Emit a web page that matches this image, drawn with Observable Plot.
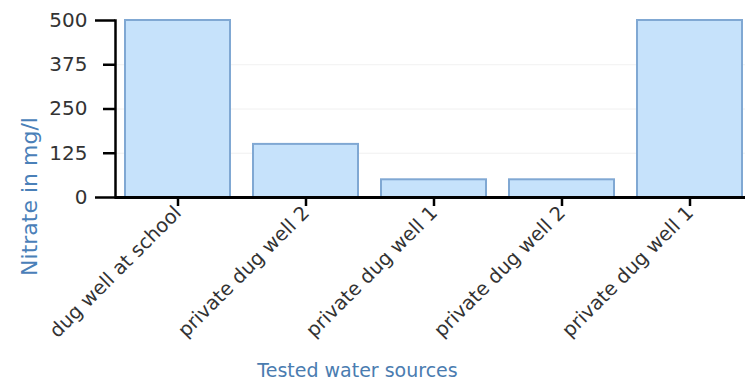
<!DOCTYPE html>
<html>
<head>
<meta charset="utf-8">
<script src="https://cdn.jsdelivr.net/npm/d3@7"></script>
<script src="https://cdn.jsdelivr.net/npm/@observablehq/plot@0.6"></script>
<style>
  html, body { margin: 0; padding: 0; background: #fff; overflow: hidden; }
  #chart { width: 745px; height: 383px; overflow: hidden; }
</style>
</head>
<body>
<div id="chart"></div>
<script>
const sources = ["dug well at school", "private dug well 2", "private dug well 1", "private dug well 2", "private dug well 1"];
const nitrate = [500, 150, 50, 50, 500];
const yTicks = [0, 125, 250, 375, 500];
const yTitle = "Nitrate in mg/l";
const xTitle = "Tested water sources";

const keys = sources.map((s, i) => i);
const data = sources.map((s, i) => ({key: i, label: s, value: nitrate[i]}));

const font = "DejaVu Sans, Verdana, sans-serif";

const chart = Plot.plot({
  width: 745,
  height: 383,
  marginLeft: 115,
  marginRight: 0,
  marginTop: 20,
  marginBottom: 186,
  style: {fontFamily: font, background: "#fff", overflow: "hidden"},
  x: {domain: keys, range: [113.5, 753.5], paddingInner: 0.18, paddingOuter: 0.09},
  y: {domain: [0, 500], range: [197, 20]},
  marks: [
    Plot.gridY(yTicks.slice(1, 4), {stroke: "#e6e6e6", strokeOpacity: 0.6, strokeWidth: 1}),
    Plot.barY(data, {x: "key", y: "value", fill: "#c6e2fb", stroke: "#80a8d3", strokeWidth: 2}),
    Plot.axisY(yTicks.slice(1, 4), {tickSize: 12, tickPadding: 16, strokeWidth: 2.5, stroke: "#000", fill: "#333", fontSize: 20, label: null}),
    Plot.axisY([yTicks[0], yTicks[4]], {tickSize: 20, tickPadding: 8, strokeWidth: 2.5, stroke: "#000", fill: "#333", fontSize: 20, label: null}),
    Plot.frame({anchor: "left", stroke: "#000", strokeWidth: 2.5}),
    Plot.ruleY([0], {stroke: "#000", strokeWidth: 3}),
    Plot.axisX({tickSize: 9, tickPadding: 3, tickRotate: -45, strokeWidth: 2.5, stroke: "#000", fill: "#333", fontSize: 19.5,
      tickFormat: (k) => sources[k], label: null}),
    Plot.text([yTitle], {frameAnchor: "left", textAnchor: "middle", rotate: -90, dx: -86, dy: 87.5, fill: "#4a80b8", fontSize: 22, fontFamily: font}),
    Plot.text([xTitle], {frameAnchor: "bottom", textAnchor: "middle", dx: -73, dy: 179, fill: "#4a7cb0", fontSize: 19, fontFamily: font})
  ]
});
document.getElementById("chart").appendChild(chart);
</script>
</body>
</html>
